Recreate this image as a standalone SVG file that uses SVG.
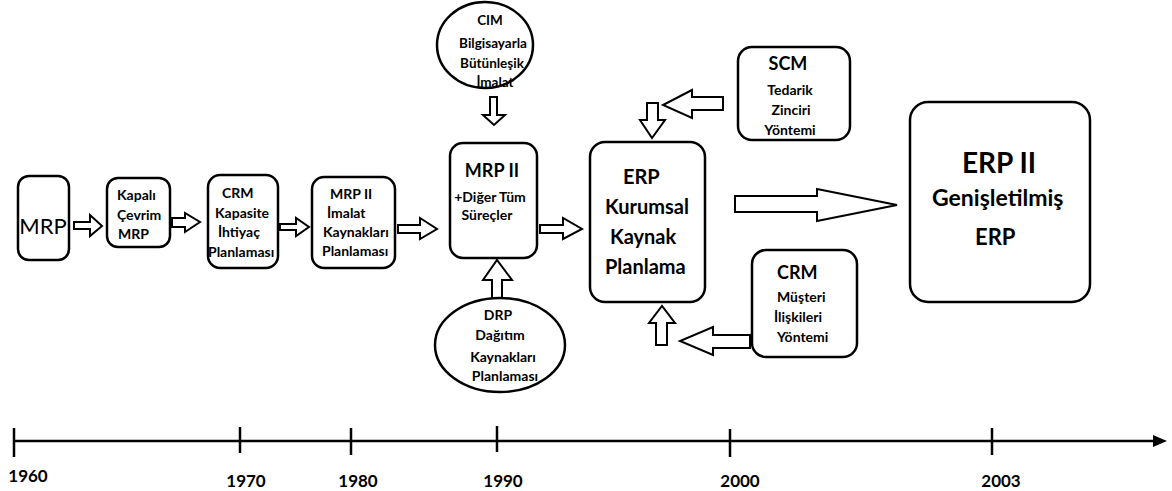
<svg xmlns="http://www.w3.org/2000/svg" width="1172" height="491" viewBox="0 0 1172 491">
<style>
.box{fill:#fff;stroke:#000;stroke-width:2.5}
.ell{fill:#fff;stroke:#000;stroke-width:2.5}
.ar{fill:#fff;stroke:#000;stroke-width:2;stroke-linejoin:miter}
.t{font-family:Lato,"Liberation Sans",sans-serif;font-weight:bold;font-size:14px;fill:#000}
.m{text-anchor:middle}
.big{font-size:20px}
.h{font-size:18px}
.e13{font-size:13.5px}
.x28{font-size:28px}
.x23{font-size:23px}
.x22{font-size:22px}
.yr{font-family:Lato,"Liberation Sans",sans-serif;font-weight:bold;font-size:17px;fill:#000;text-anchor:middle}
.axis{stroke:#000;stroke-width:2.5;fill:none}
</style>
<rect width="1172" height="491" fill="#fff"/>

<g id="connectors">
<path class="ar" d="M74,222 H90 V215 L102,226 L90,236 V229 H74 Z"/>
<path class="ar" d="M172,218 H185 V213 L200,222 L185,232 V227 H172 Z"/>
<path class="ar" d="M280,224 H296 V218 L309,227 L296,236 V230 H280 Z"/>
<path class="ar" d="M398,225 H420 V218 L437,229 L420,239 V233 H398 Z"/>
<path class="ar" d="M540,225 H563 V218 L582,229 L563,239 V233 H540 Z"/>
<path class="ar" d="M490,97 V115 H483 L494,125 L505,115 H497 V97 Z"/>
<path class="ar" d="M492,299 V280 H483 L497,260 L512,280 H502 V299 Z"/>
<path class="ar" d="M735,196 H817 V189 L897,205 L817,221 V212 H735 Z"/>
<path class="ar" d="M723,97 H692 V90 L663,105 L692,118 V110 H723 Z"/>
<path class="ar" d="M647,103 V120 H640 L652,138 L665,120 H658 V103 Z"/>
<path class="ar" d="M750,335 H713 V327 L680,341 L713,355 V348 H750 Z"/>
<path class="ar" d="M656,345 V323 H649 L662,306 L675,323 H667 V345 Z"/>
</g>

<g id="mrp">
<rect class="box" x="18" y="176" width="51" height="84" rx="11"/>
<text x="43" y="234" font-family="Lato,'Liberation Sans',sans-serif" font-size="22" text-anchor="middle">MRP</text>
</g>

<g id="kapali">
<rect class="box" x="107" y="178" width="63" height="69" rx="11"/>
<text class="t" x="117" y="200">Kapalı</text>
<text class="t" x="117" y="220">Çevrim</text>
<text class="t" x="118" y="239">MRP</text>
</g>

<g id="crm1">
<rect class="box" x="208" y="175" width="70" height="93" rx="12"/>
<text class="t" x="222" y="198">CRM</text>
<text class="t" x="215" y="218">Kapasite</text>
<text class="t" x="218" y="237">İhtiyaç</text>
<text class="t" x="208" y="257">Planlaması</text>
</g>

<g id="mrp2a">
<rect class="box" x="312" y="177" width="83" height="91" rx="12"/>
<text class="t" x="330" y="199">MRP II</text>
<text class="t" x="327" y="218">İmalat</text>
<text class="t" x="323" y="237">Kaynakları</text>
<text class="t" x="322" y="256">Planlaması</text>
</g>

<g id="mrp2b">
<rect class="box" x="450" y="143" width="87" height="115" rx="13"/>
<text class="t h m" x="492" y="177">MRP II</text>
<text class="t m" x="490" y="202">+Diğer Tüm</text>
<text class="t m" x="487" y="220">Süreçler</text>
</g>

<g id="cim">
<ellipse class="ell" cx="485" cy="45" rx="48" ry="43"/>
<text class="t m e13" x="490" y="25">CIM</text>
<text class="t m e13" x="493" y="48">Bilgisayarla</text>
<text class="t m e13" x="492" y="68">Bütünleşik</text>
<text class="t m e13" x="495" y="87">İmalat</text>
</g>

<g id="drp">
<ellipse class="ell" cx="500" cy="345" rx="65" ry="47"/>
<text class="t m" x="498" y="320">DRP</text>
<text class="t m" x="500" y="340">Dağıtım</text>
<text class="t m" x="503" y="362">Kaynakları</text>
<text class="t m" x="505" y="381">Planlaması</text>
</g>

<g id="erp">
<rect class="box" x="590" y="142" width="115" height="160" rx="15"/>
<text class="t big" x="623" y="184">ERP</text>
<text class="t big" x="605" y="214">Kurumsal</text>
<text class="t big" x="610" y="244">Kaynak</text>
<text class="t big" x="605" y="274">Planlama</text>
</g>

<g id="scm">
<rect class="box" x="738" y="47" width="112" height="93" rx="14"/>
<text class="t h m" x="788" y="70">SCM</text>
<text class="t m" x="790" y="95">Tedarik</text>
<text class="t m" x="791" y="115">Zinciri</text>
<text class="t m" x="790" y="135">Yöntemi</text>
</g>

<g id="crm2">
<rect class="box" x="752" y="250" width="105" height="107" rx="14"/>
<text class="t h" x="777" y="279">CRM</text>
<text class="t" x="777" y="302">Müşteri</text>
<text class="t" x="774" y="322">İlişkileri</text>
<text class="t" x="777" y="342">Yöntemi</text>
</g>

<g id="erp2">
<rect class="box" x="910" y="102" width="180" height="200" rx="18"/>
<text class="t x28" x="962" y="173">ERP II</text>
<text class="t x23" x="932" y="206">Genişletilmiş</text>
<text class="t x22" x="975" y="245">ERP</text>
</g>

<g id="timeline">
<line class="axis" x1="14" y1="441" x2="1156" y2="441"/>
<path d="M1153,435 L1167,441 L1153,447 Z" fill="#000"/>
<line class="axis" x1="14" y1="428" x2="14" y2="457"/>
<line class="axis" x1="240" y1="427" x2="240" y2="453"/>
<line class="axis" x1="351" y1="428" x2="351" y2="455"/>
<line class="axis" x1="497" y1="426" x2="497" y2="452"/>
<line class="axis" x1="730" y1="429" x2="730" y2="457"/>
<line class="axis" x1="992" y1="428" x2="992" y2="455"/>
<text class="yr" x="28" y="482">1960</text>
<text class="yr" x="246" y="487">1970</text>
<text class="yr" x="358" y="487">1980</text>
<text class="yr" x="503" y="487">1990</text>
<text class="yr" x="740" y="487">2000</text>
<text class="yr" x="1001" y="487">2003</text>
</g>
</svg>
